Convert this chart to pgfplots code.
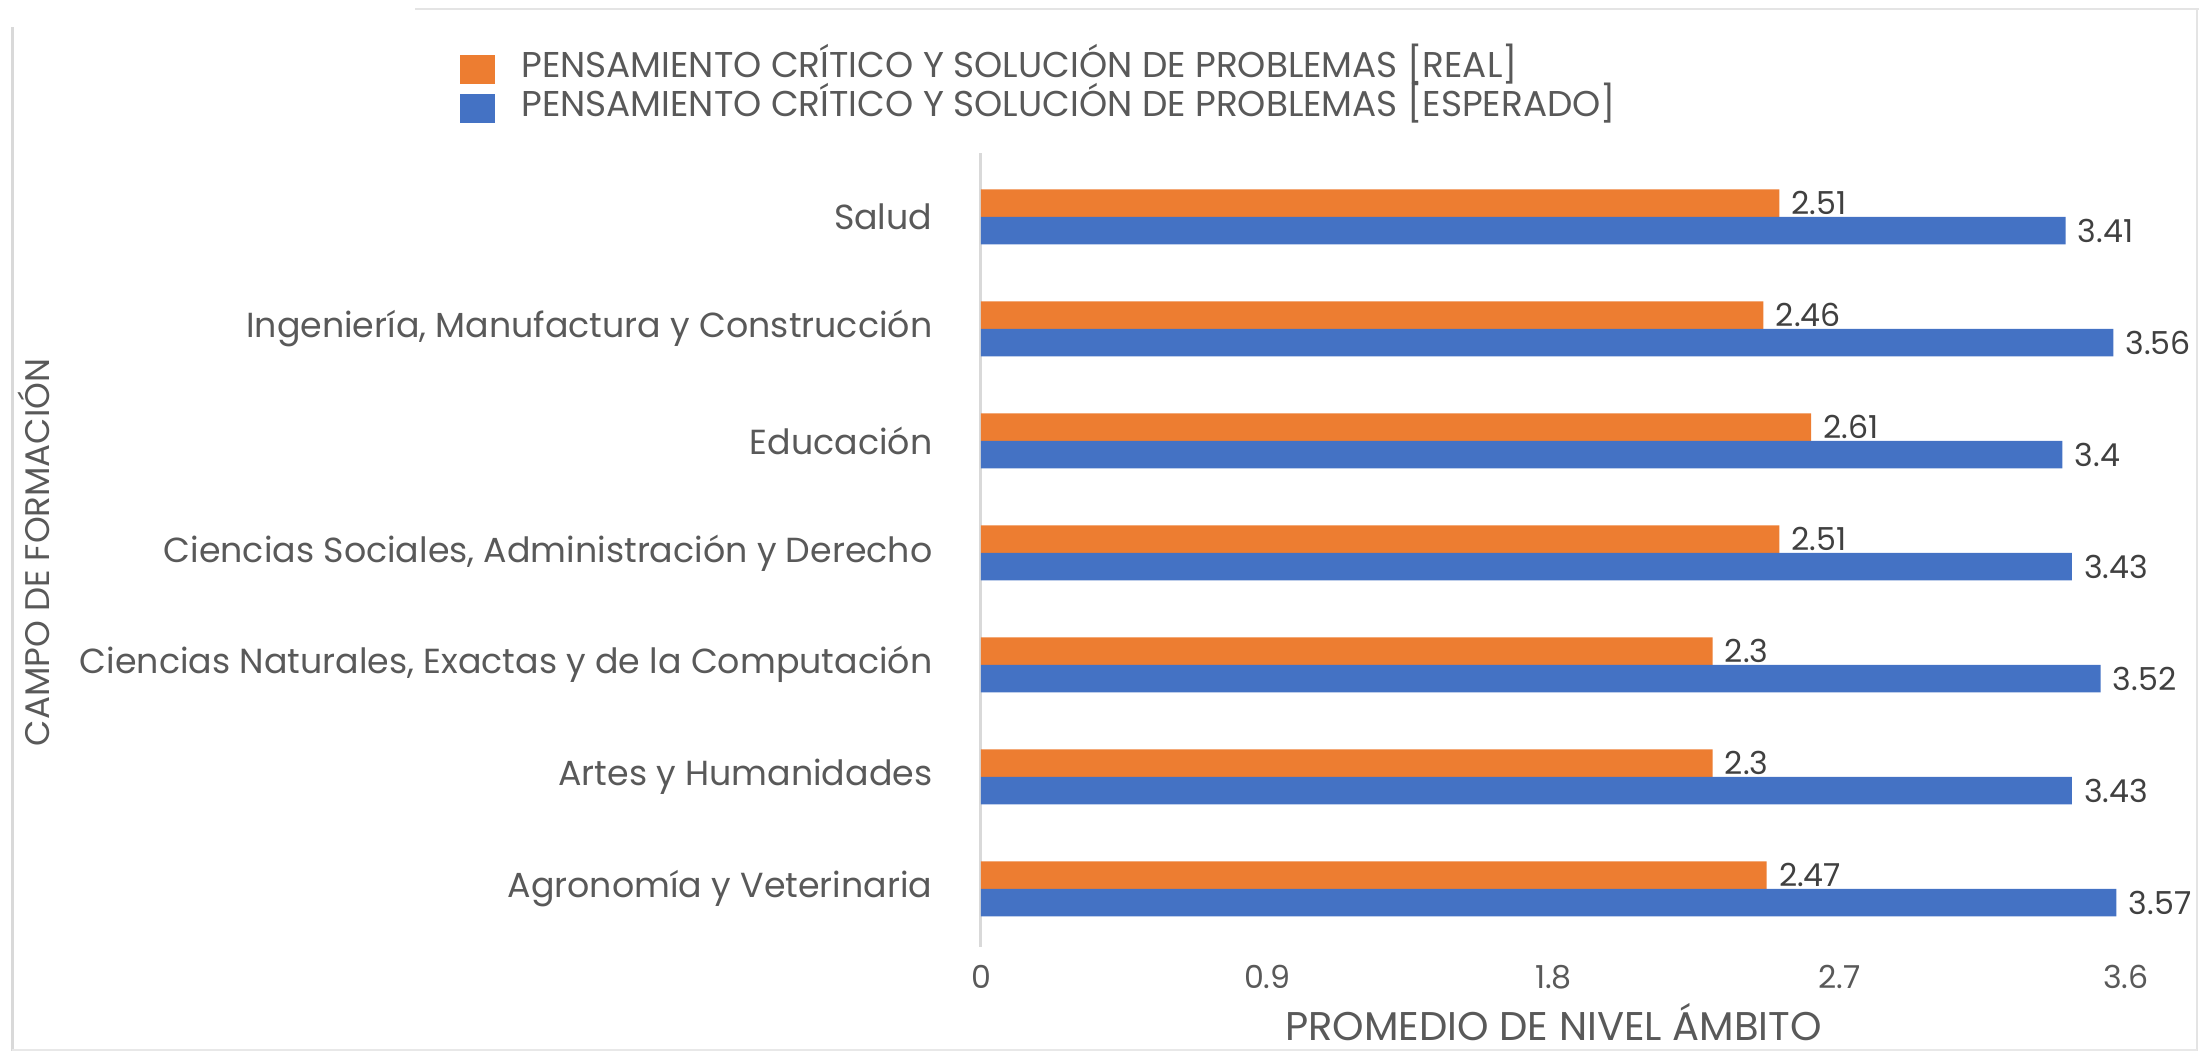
\documentclass[border=0pt]{standalone}
\usepackage{pgfplots}
\pgfplotsset{compat=1.18}
\usepackage{fontspec}
\setmainfont{Poppins}
\definecolor{cOr}{HTML}{ED7D31}
\definecolor{cBl}{HTML}{4472C4}
\definecolor{cTx}{HTML}{595959}
\definecolor{cLb}{HTML}{404040}
\definecolor{cAx}{HTML}{D9D9D9}
\newcommand{\fs}{\fontsize{9}{10.8}\selectfont}
\newcommand{\fl}{\fontsize{9.9}{11.8}\selectfont}
\newcommand{\fg}{\fontsize{10.2}{12.2}\selectfont}
\newcommand{\fx}{\fontsize{11.4}{13.6}\selectfont}
\newcommand{\fy}{\fontsize{9.7}{11.6}\selectfont}
\begin{document}
\begin{tikzpicture}
\path[use as bounding box] (0,0) rectangle (219.9mm,105.1mm);
\draw[cAx, line width=0.3mm] (1.2mm,0) -- (1.2mm,102.4mm);
\draw[cAx!70, line width=0.15mm] (41.5mm,104.2mm) -- (219.9mm,104.2mm);
\draw[cAx!70, line width=0.2mm] (219.7mm,0) -- (219.7mm,104.2mm);
\draw[cAx!60, line width=0.15mm] (1.2mm,0.1mm) -- (219.7mm,0.1mm);
\begin{axis}[
  at={(98.1mm,10.4mm)}, anchor=south west,
  scale only axis, width=114.5mm, height=79.4mm,
  xbar, bar width=2.75mm,
  xmin=0, xmax=3.6, ymin=-0.52, ymax=6.57,
  xtick={0,0.9,1.8,2.7,3.6},
  ytick={0,1,2,3,4,5,6},
  yticklabels={Agronomía y Veterinaria, Artes y Humanidades, {Ciencias Naturales, Exactas y de la Computación}, {Ciencias Sociales, Administración y Derecho}, Educación, {Ingeniería, Manufactura y Construcción}, Salud},
  axis x line=bottom, axis y line=left,
  x axis line style={draw=none},
  y axis line style={-, draw=cAx, line width=0.3mm},
  major tick length=0pt, tick style={draw=none},
  /pgf/number format/assume math mode=true,
  tick label style={text=cTx},
  xticklabel style={font=\fs, anchor=center, yshift=-3mm},
  yticklabel style={font=\fl, anchor=east, inner sep=0pt, xshift=-4.8mm},
  xlabel={PROMEDIO DE NIVEL ÁMBITO},
  ylabel={CAMPO DE FORMACIÓN},
  label style={text=cTx},
  xlabel style={font=\fx, at={(axis description cs:0.5,0)}, anchor=center, yshift=-7.5mm},
  ylabel style={font=\fy, at={(axis description cs:-0.827,0.497)}, anchor=center},
  nodes near coords,
  nodes near coords style={font=\fs, text=cLb, anchor=west},
  legend style={at={(axis description cs:-0.4554,1.1285)}, anchor=north west,
    draw=none, fill=none, inner sep=0pt, font=\fg, text=cTx,
    nodes={inner sep=0pt, text height=2.6mm, text depth=0.9mm},
    row sep=0.4mm,
    /tikz/every odd column/.append style={column sep=2.6mm}},
  legend cell align=left,
]
\addplot[fill=cOr, draw=none, bar shift=1.375mm,
  legend image code/.code={\fill[cOr] (0mm,-1.45mm) rectangle (3.5mm,1.45mm);}]
  coordinates {(2.47,0) (2.3,1) (2.3,2) (2.51,3) (2.61,4) (2.46,5) (2.51,6)};
\addplot[fill=cBl, draw=none, bar shift=-1.375mm,
  legend image code/.code={\fill[cBl] (0mm,-1.45mm) rectangle (3.5mm,1.45mm);}]
  coordinates {(3.57,0) (3.43,1) (3.52,2) (3.43,3) (3.4,4) (3.56,5) (3.41,6)};
\legend{PENSAMIENTO CRÍTICO Y SOLUCIÓN DE PROBLEMAS [REAL], PENSAMIENTO CRÍTICO Y SOLUCIÓN DE PROBLEMAS [ESPERADO]}
\end{axis}
\end{tikzpicture}
\end{document}
